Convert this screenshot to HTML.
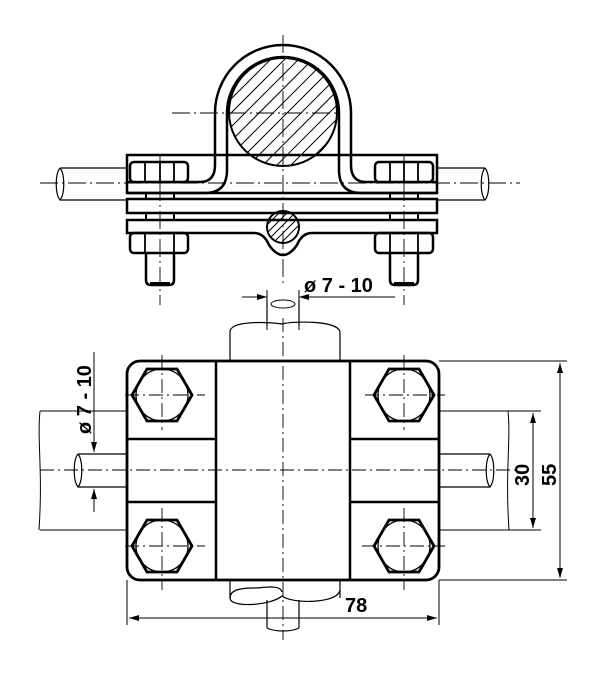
<!DOCTYPE html>
<html><head><meta charset="utf-8"><style>html,body{margin:0;padding:0;background:#fff}svg{display:block}</style></head><body>
<svg width="600" height="675" viewBox="0 0 600 675" xmlns="http://www.w3.org/2000/svg" font-family="Liberation Sans, sans-serif">
<defs>
<clipPath id="bc"><circle cx="283" cy="112" r="54"/></clipPath>
<clipPath id="sc"><circle cx="283" cy="227" r="16"/></clipPath>
<marker id="ar" viewBox="0 0 10 6" refX="10" refY="3" markerWidth="10" markerHeight="6" orient="auto-start-reverse" markerUnits="userSpaceOnUse"><path d="M0,0 L10,3 L0,6 Z" fill="#000"/></marker>
</defs>
<g fill="none" stroke="#000">
<path d="M127,168 H60 M127,200 H60 M60,168 c-5,6 -5,26 0,32 c5,-6 5,-26 0,-32" stroke-width="1.2"/>
<path d="M437,168 H485 M437,200 H485 M485,168 c5,6 5,26 0,32 c-5,-6 -5,-26 0,-32" stroke-width="1.2"/>
<circle cx="283" cy="112" r="54" stroke-width="2"/>
<g clip-path="url(#bc)" stroke-width="1">
<path d="M200,200 L380,20 M200,186 L380,6 M200,172 L380,-8 M200,158 L380,-22 M200,144 L380,-36 M200,130 L380,-50 M200,214 L380,34 M200,228 L380,48 M200,242 L380,62 M200,256 L380,76 M200,270 L380,90 M200,284 L380,104"/>
</g>
<path d="M127,155 V193 H437 V155 Z" stroke-width="2.5"/>
<path d="M127,182 H200 Q215,182 215,165 V113 A68,68 0 0 1 351,113 V165 Q351,182 366,182 H437" stroke-width="2.5"/>
<path d="M127,193 H205 Q227,193 227,170 V113 A56,56 0 0 1 339,113 V170 Q339,193 361,193 H437" stroke-width="2.5"/>
<rect x="127" y="199" width="310" height="14" stroke-width="2.5"/>
<path d="M127,220 H437 V233 H312 Q302,233 297,245 Q283,265 269,245 Q264,233 254,233 H127 Z" stroke-width="2.5"/>
<circle cx="283" cy="227" r="16" stroke-width="2"/>
<g clip-path="url(#sc)" stroke-width="1"><path d="M260,240 L300,200 M260,248 L308,200 M260,232 L292,200 M260,224 L284,200 M260,256 L316,200 M260,264 L324,200 M268,264 L324,208"/></g>
<rect x="130" y="162" width="58" height="20" rx="4" stroke-width="2.5" fill="#fff"/>
<path d="M145,162 V182 M160,162 V182 M174,162 V182" stroke-width="1.8"/>
<rect x="375" y="162" width="58" height="20" rx="4" stroke-width="2.5" fill="#fff"/>
<path d="M390,162 V182 M404,162 V182 M418,162 V182" stroke-width="1.8"/>
<path d="M146,193 V199 M174,193 V199 M146,213 V220 M174,213 V220 M390,193 V199 M418,193 V199 M390,213 V220 M418,213 V220" stroke-width="2"/>
<rect x="130" y="233" width="58" height="20" rx="4" stroke-width="2.5"/>
<path d="M145,233 V253 M174,233 V253" stroke-width="1.8"/>
<rect x="375" y="233" width="58" height="20" rx="4" stroke-width="2.5"/>
<path d="M390,233 V253 M418,233 V253" stroke-width="1.8"/>
<path d="M146,253 V280 Q146,285 151,285 H169 Q174,285 174,280 V253" stroke-width="2.5"/>
<path d="M390,253 V280 Q390,285 395,285 H413 Q418,285 418,280 V253" stroke-width="2.5"/>
<path d="M150,283 H170 M394,283 H414" stroke-width="2"/>
<g stroke-width="0.9" stroke-dasharray="18,4,2,4">
<path d="M283,35 V285"/>
<path d="M172,113 H336"/>
<path d="M40,183 H520"/>
<path d="M160,155 V305"/>
<path d="M404,155 V305"/>
</g>
<path d="M242,297 H267" stroke-width="1" marker-end="url(#ar)"/>
<path d="M395,297 H299" stroke-width="1" marker-end="url(#ar)"/>
<path d="M267,290 V330 M299,290 V330" stroke-width="1"/>

<path d="M230,361 V332 M340,361 V332 M230,332 c0,-12 40,-10 52,-8 c10,-3 56,-4 58,8" stroke-width="1.2"/>
<path d="M230,580 V598 M340,580 V598 M230,598 c0,10 40,8 52,-2 c10,8 56,8 58,-6" stroke-width="1.2"/>
<path d="M230,598 c0,-8 10,-10 24,-10 c10,0 26,-4 28,4" stroke-width="1.2"/>
<path d="M267,300 V326 M299,300 V326" stroke-width="1.2"/>
<ellipse cx="283" cy="304" rx="12" ry="4" stroke-width="1"/>
<path d="M267,600 V628 M299,600 V628 M267,628 c8,4 24,4 32,0" stroke-width="1.2"/>
<path d="M127,454 H78 M127,487 H78 M78,454 c-5,6 -5,27 0,33 c5,-6 5,-27 0,-33" stroke-width="1.2"/>
<path d="M439,454 H490 M439,487 H490 M490,454 c5,6 5,27 0,33 c-5,-6 -5,-27 0,-33" stroke-width="1.2"/>
<rect x="127" y="361" width="312" height="219" rx="13" stroke-width="2.8" fill="none"/>
<path d="M216,361 V580 M350,361 V580 M127,439 H216 M127,502 H216 M350,439 H439 M350,502 H439" stroke-width="2.5"/>
<g stroke-width="2.8">
<path d="M132,395 L147,369 H177 L192,395 L177,421 H147 Z"/>
<path d="M132,546 L147,520 H177 L192,546 L177,572 H147 Z"/>
<path d="M374,395 L389,369 H419 L434,395 L419,421 H389 Z"/>
<path d="M374,546 L389,520 H419 L434,546 L419,572 H389 Z"/>
</g>
<g stroke-width="1.3">
<circle cx="162" cy="395" r="26"/><circle cx="162" cy="546" r="26"/>
<circle cx="404" cy="395" r="26"/><circle cx="404" cy="546" r="26"/>
</g>
<g stroke-width="0.9" stroke-dasharray="14,4,2,4">
<path d="M162,355 V430 M125,395 H205 M162,508 V590 M125,546 H205"/>
<path d="M404,355 V430 M365,395 H445 M404,508 V590 M362,546 H445"/>
<path d="M283,318 V640"/>
<path d="M40,470 H520"/>
</g>
<path d="M127,411 H40 M127,530 H40 M40,411 c-3,30 3,60 -1,119" stroke-width="1"/>
<path d="M439,411 H541 M439,530 H541 M508,411 c3,30 -3,60 1,119" stroke-width="1"/>
<path d="M439,361 H567 M439,580 H567" stroke-width="1"/>
<path d="M533,470 V413" stroke-width="1" marker-end="url(#ar)"/>
<path d="M533,470 V528" stroke-width="1" marker-end="url(#ar)"/>
<path d="M560,470 V363" stroke-width="1" marker-end="url(#ar)"/>
<path d="M560,470 V578" stroke-width="1" marker-end="url(#ar)"/>
<path d="M127,580 V625 M439,580 V625" stroke-width="1"/>
<path d="M283,618 H129" stroke-width="1" marker-end="url(#ar)"/>
<path d="M283,618 H437" stroke-width="1" marker-end="url(#ar)"/>
<path d="M94,352 V452" stroke-width="1" marker-end="url(#ar)"/>
<path d="M94,512 V489" stroke-width="1" marker-end="url(#ar)"/>
</g>
<g fill="#000" font-weight="bold" font-size="20">
<text x="304" y="292">ø 7 - 10</text>
<text x="345" y="612">78</text>
<text transform="translate(91,434) rotate(-90)">ø 7 - 10</text>
<text transform="translate(529,486) rotate(-90)">30</text>
<text transform="translate(556,486) rotate(-90)">55</text>
</g>
</svg>
</body></html>
